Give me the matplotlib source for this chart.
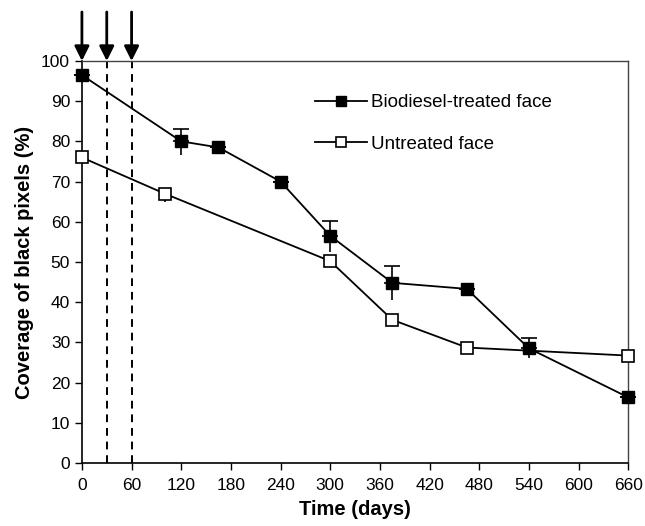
import matplotlib.pyplot as plt
import numpy as np

plt.rcParams["font.family"] = ["Liberation Sans", "DejaVu Sans"]

# Biodiesel-treated face
days_bio = [0, 120, 165, 240, 300, 375, 465, 540, 660]
cov_bio = [96.5, 80.0, 78.5, 70.0, 56.5, 44.8, 43.3, 28.5, 16.3]
err_bio_up = [0, 3.0, 0, 0, 3.8, 4.2, 0, 2.6, 0]
err_bio_dn = [0, 3.5, 0, 0, 4.0, 4.2, 0, 2.5, 0]
xerr_bio = [8, 0, 8, 0, 0, 0, 8, 0, 8]

# Untreated face
days_unt = [0, 100, 300, 375, 465, 660]
cov_unt = [76.0, 67.0, 50.2, 35.6, 28.7, 26.7]
err_unt_up = [0, 0, 0, 0, 0, 0]
err_unt_dn = [0, 2.2, 0, 0, 0, 0]

arrow_days = [0, 30, 60]
dashed_days = [30, 60]

fig = plt.figure(figsize=(6.45, 5.26), dpi=100)
ax = fig.add_axes([0.127, 0.12, 0.847, 0.764])

for d in dashed_days:
    ax.plot([d, d], [0, 100], color="black", lw=1.4, ls=(0, (4, 3)), zorder=1)

# lines and markers
ax.plot(days_bio, cov_bio, color="black", lw=1.3, marker="s", ms=8.5,
        mfc="black", mec="black", label="Biodiesel-treated face", zorder=3,
        clip_on=False)
ax.plot(days_unt, cov_unt, color="black", lw=1.3, marker="s", ms=8.5,
        mfc="white", mec="black", mew=1.2, label="Untreated face", zorder=3,
        clip_on=False)

# error bars: capped upward, plain downward, short stubs to the right
eb_kw = dict(fmt="none", ecolor="black", elinewidth=1.2, zorder=2)
parts = [
    ax.errorbar(days_bio, cov_bio, yerr=[np.zeros(len(cov_bio)), err_bio_up],
                capsize=6, capthick=1.2, **eb_kw),
    ax.errorbar(days_bio, cov_bio, yerr=[err_bio_dn, np.zeros(len(cov_bio))],
                capsize=0, **eb_kw),
    ax.errorbar(days_bio, cov_bio, xerr=[np.zeros(len(days_bio)), xerr_bio],
                capsize=0, **eb_kw),
    ax.errorbar(days_unt, cov_unt, yerr=[err_unt_dn, err_unt_up],
                capsize=0, **eb_kw),
]
for p in parts:
    for child in p.get_children():
        child.set_clip_on(False)

# arrows on top
for d in arrow_days:
    ax.annotate("", xy=(d, 100), xytext=(d, 112.2),
                arrowprops=dict(arrowstyle="-|>", color="black", lw=2,
                                mutation_scale=22, shrinkA=0, shrinkB=0),
                annotation_clip=False)

ax.set_xlim(0, 660)
ax.set_ylim(0, 100)
ax.set_xticks(np.arange(0, 661, 60))
ax.set_yticks(np.arange(0, 101, 10))
ax.tick_params(axis="both", labelsize=12.5, direction="out", length=5, width=1, color="black")
ax.tick_params(axis="x", pad=6)

for side in ["left", "bottom"]:
    ax.spines[side].set_linewidth(1.2)
    ax.spines[side].set_color("black")
for side in ["top", "right"]:
    ax.spines[side].set_linewidth(1.0)
    ax.spines[side].set_color("#444444")

ax.set_xlabel("Time (days)", fontsize=14.5, fontweight="bold", labelpad=5)
ax.set_ylabel("Coverage of black pixels (%)", fontsize=14.5, fontweight="bold", labelpad=5)

ax.legend(loc="upper left", bbox_to_anchor=(0.395, 0.96), frameon=False, fontsize=13.5,
          handlelength=2.8, labelspacing=1.3, handletextpad=0.2, markerscale=0.85)

fig.savefig("out.png", dpi=100)
